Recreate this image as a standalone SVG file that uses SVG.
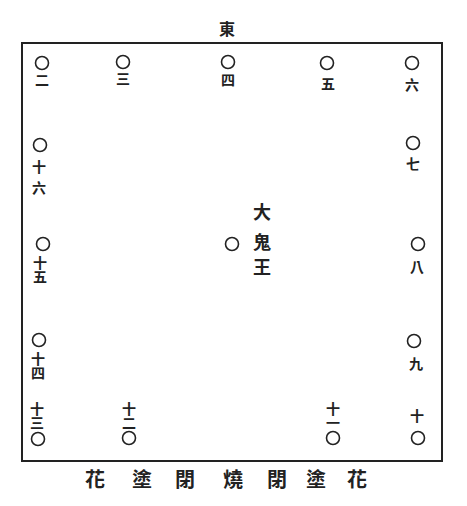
<svg xmlns="http://www.w3.org/2000/svg" width="467" height="506" viewBox="0 0 467 506">
<style>
text{font-family:"Noto Sans CJK TC","Noto Sans CJK SC",sans-serif;fill:#222;text-anchor:middle;dominant-baseline:central;font-weight:bold}
.n{font-size:14px}
.v{font-size:14px;writing-mode:vertical-rl}
.c{font-size:18px}
.b{font-size:20px}
circle{fill:none;stroke:#222;stroke-width:1.6}
</style>
<rect width="467" height="506" fill="#fff"/>
<rect x="22" y="43" width="420" height="418" fill="none" stroke="#222" stroke-width="2"/>
<text x="227" y="28" style="font-size:16px">東</text>
<g id="connectors"/>
<g id="n2"><circle cx="42" cy="63" r="6.5"/><text class="n" x="42" y="79">二</text></g>
<g id="n3"><circle cx="123" cy="62" r="6.5"/><text class="n" x="123" y="78">三</text></g>
<g id="n4"><circle cx="228" cy="62" r="6.5"/><text class="n" x="228" y="79">四</text></g>
<g id="n5"><circle cx="327" cy="63" r="6.5"/><text class="n" x="328" y="83">五</text></g>
<g id="n6"><circle cx="412" cy="63" r="6.5"/><text class="n" x="412" y="84">六</text></g>
<g id="n7"><circle cx="413" cy="143" r="6.5"/><text class="n" x="413" y="163">七</text></g>
<g id="n8"><circle cx="418" cy="244" r="6.5"/><text class="n" x="417" y="266">八</text></g>
<g id="n9"><circle cx="414" cy="341" r="6.5"/><text class="n" x="416" y="363">九</text></g>
<g id="n10"><text class="n" x="417" y="415">十</text><circle cx="418" cy="438" r="6.5"/></g>
<g id="n11"><text class="v" x="333" y="415.5">十一</text><circle cx="333" cy="438" r="6.5"/></g>
<g id="n12"><text class="v" x="129" y="416">十二</text><circle cx="129" cy="438" r="6.5"/></g>
<g id="n13"><text class="v" x="37" y="416">十三</text><circle cx="38" cy="439" r="6.5"/></g>
<g id="n14"><circle cx="39" cy="340" r="6.5"/><text class="v" x="38" y="366">十四</text></g>
<g id="n15"><circle cx="43" cy="244" r="6.5"/><text class="v" x="40" y="270">十五</text></g>
<g id="n16"><circle cx="40" cy="145" r="6.5"/><text class="v" x="39" y="181" letter-spacing="7">十六</text></g>
<g id="center"><circle cx="232" cy="244" r="6.5"/><text class="c" x="262" y="211">大</text><text class="c" x="262" y="241">鬼</text><text class="c" x="262" y="266">王</text></g>
<g id="bottom">
<text class="b" x="95" y="478">花</text>
<text class="b" x="142" y="478">塗</text>
<text class="b" x="185" y="478">閉</text>
<text class="b" x="233" y="478">燒</text>
<text class="b" x="277" y="478">閉</text>
<text class="b" x="316" y="478">塗</text>
<text class="b" x="357" y="478">花</text>
</g>
</svg>
